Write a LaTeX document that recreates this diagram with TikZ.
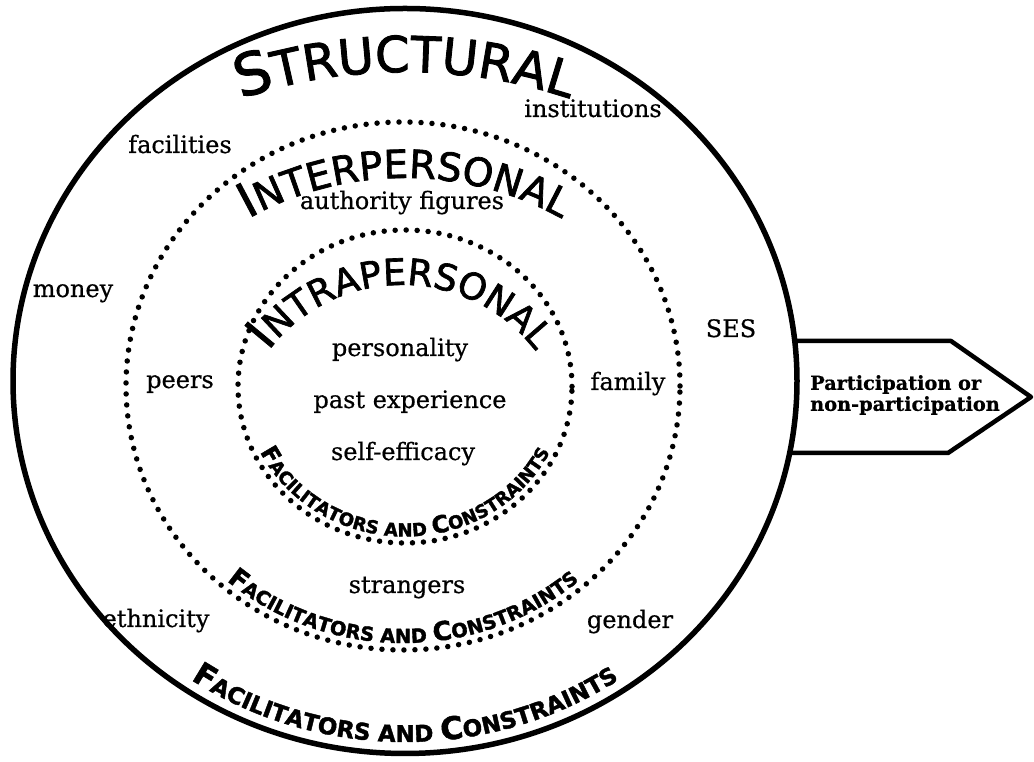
\documentclass[tikz,border=0pt]{standalone}
\usepackage{fontspec}
\setmainfont{DejaVu Serif}[FakeBold=0.6]
\newfontfamily\headfont{DejaVu Sans}[FakeBold=1.8]
\newfontfamily\partfont{DejaVu Serif Bold}[FakeBold=0.8]
\usetikzlibrary{decorations.text}

\newcommand\strA{\headfont\fontsize{58}{58}\selectfont}
\newcommand\strB{\headfont\fontsize{49.5}{49.5}\selectfont}
\newcommand\intA{\headfont\fontsize{48}{48}\selectfont}
\newcommand\intB{\headfont\fontsize{39}{39}\selectfont}
\newcommand\traA{\headfont\fontsize{47}{47}\selectfont}
\newcommand\traB{\headfont\fontsize{36.5}{36.5}\selectfont}
\newcommand\fcoA{\headfont\bfseries\fontsize{31}{31}\selectfont}
\newcommand\fcoB{\headfont\bfseries\fontsize{23}{23}\selectfont}
\newcommand\fcmA{\headfont\bfseries\fontsize{26}{26}\selectfont}
\newcommand\fcmB{\headfont\bfseries\fontsize{19.4}{19.4}\selectfont}
\newcommand\fciA{\headfont\bfseries\fontsize{23.5}{23.5}\selectfont}
\newcommand\fciB{\headfont\bfseries\fontsize{18}{18}\selectfont}

\begin{document}
\begin{tikzpicture}[x=1pt, y=1pt,
  lbl/.style={font=\fontsize{24}{28}\selectfont, anchor=base, inner sep=0pt},
  ring/.style={line width=5.5pt},
  dotring/.style={line width=5.5pt, line cap=round, dash pattern=on 0pt off 11pt},
  arctext/.style={decorate, decoration={text along path, text align=center, text={#1}}}]
\useasboundingbox (0,0) rectangle (1034,762);

\coordinate (outc) at (405,381);
\coordinate (midc) at (403,376);
\coordinate (innc) at (405,375.5);

\draw[ring] (outc) ellipse[x radius=392, y radius=372.5];
\draw[dotring] (midc) ellipse[x radius=277, y radius=264];
\draw[dotring] (innc) ellipse[x radius=167, y radius=156.5];

% arrow out of the circle
\coordinate (ar1) at (794.7,421);
\coordinate (ar2) at (951,421);
\coordinate (tip) at (1031,365);
\coordinate (ar3) at (948,309);
\coordinate (ar4) at (789.6,309);
\draw[line width=4.5pt, line join=round] (ar1) -- (ar2) -- (tip) -- (ar3) -- (ar4);
\node[font=\partfont\fontsize{19.3}{21}\selectfont, align=left, anchor=west, inner sep=0pt] (part) at (810,367) {Participation or\\non-participation};

% level names
\path[arctext={|\strA|S|\strB|TRUCTURAL}] (405,170) ++(125:520) arc[start angle=125, end angle=55, radius=520];
\path[arctext={|\intA|I|\intB|NTERPERSONAL}] (405,262) ++(130:322) arc[start angle=130, end angle=50, radius=322];
\path[arctext={|\traA|I|\traB|NTRAPERSONAL}] (402,309) ++(150:168) arc[start angle=150, end angle=30, radius=168];

\path[arctext={|\fcoA|F|\fcoB|ACILITATORS AND |\fcoA|C|\fcoB|ONSTRAINTS}] (outc) ++(215:381 and 361) arc[start angle=215, end angle=325, x radius=381, y radius=361];
\path[arctext={|\fcmA|F|\fcmB|ACILITATORS AND |\fcmA|C|\fcmB|ONSTRAINTS}] (midc) ++(205:270 and 257) arc[start angle=205, end angle=335, x radius=270, y radius=257];
\path[arctext={|\fciA|F|\fciB|ACILITATORS AND |\fciA|C|\fciB|ONSTRAINTS}] (innc) ++(190:161 and 150) arc[start angle=190, end angle=350, x radius=161, y radius=150];

% structural
\node[lbl] (institutions) at (593,645) {institutions};
\node[lbl] (facilities) at (180,609) {facilities};
\node[lbl] (money) at (73,465) {money};
\node[lbl] (ses) at (731,425) {SES};
\node[lbl] (ethnicity) at (156,135) {ethnicity};
\node[lbl] (gender) at (630,134) {gender};
% interpersonal
\node[lbl] (authority) at (402,553) {authority figures};
\node[lbl] (peers) at (180,374) {peers};
\node[lbl] (family) at (628,372) {family};
\node[lbl] (strangers) at (407,169) {strangers};
% intrapersonal
\node[lbl] (personality) at (400,406) {personality};
\node[lbl] (past) at (410,354) {past experience};
\node[lbl] (selfeff) at (403,302) {self-efficacy};
\end{tikzpicture}
\end{document}
